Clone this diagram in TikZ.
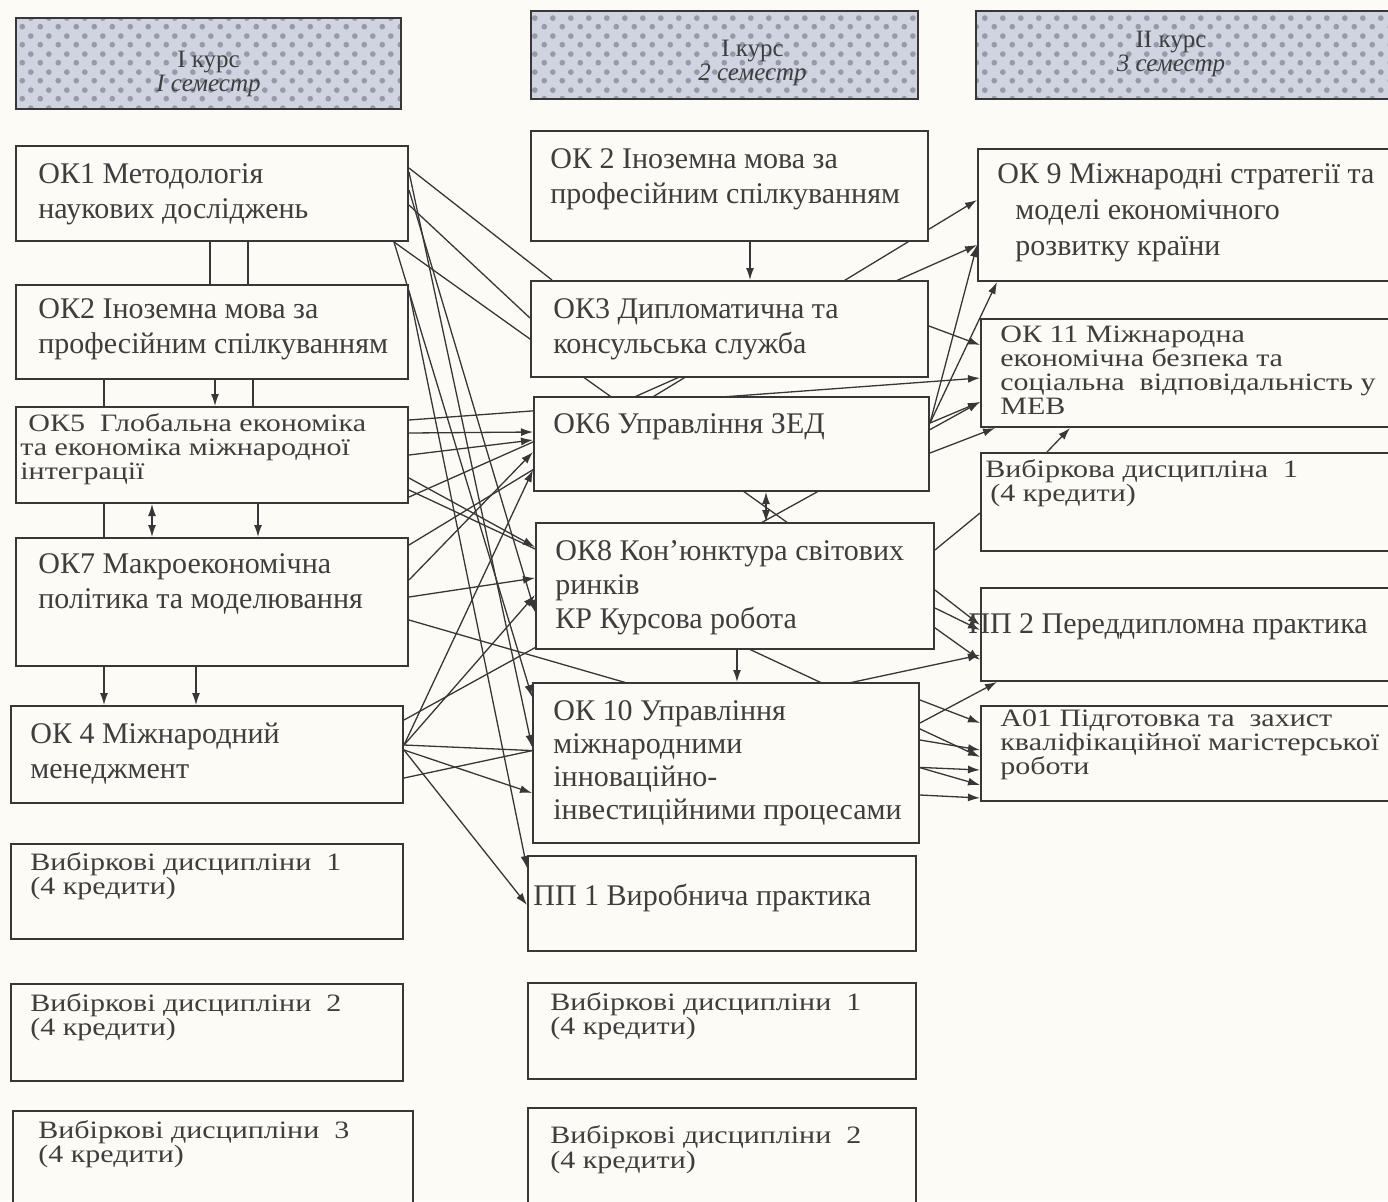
\documentclass[tikz,border=0pt]{standalone}
\usepackage{fontspec}
\setmainfont{Liberation Serif}
\newfontfamily\widefont[FakeStretch=1.2]{Liberation Serif}
\usetikzlibrary{arrows.meta,calc,patterns.meta}

\definecolor{linec}{RGB}{55,55,55}
\definecolor{textc}{RGB}{62,62,62}
\definecolor{paper}{RGB}{252,251,246}
\definecolor{hfill}{RGB}{208,212,224}
\definecolor{hdot}{RGB}{150,155,172}

\pgfdeclarelayer{sheet}
\pgfdeclarelayer{lines}
\pgfsetlayers{sheet,lines,main}

% dotted fill of the course headers
\tikzdeclarepattern{
  name=hdots,
  type=uncolored,
  bounding box={(0pt,0pt) and (9pt,9pt)},
  tile size={(9pt,9pt)},
  code={
    \fill (2.25pt,2.25pt) circle (1.5pt);
    \fill (6.75pt,6.75pt) circle (1.5pt);
  }
}

% squeezed lines, as in the scan
\setlength{\lineskiplimit}{-20pt}
\newcommand{\bigtxt}{\fontsize{15}{17.5}\selectfont}
\newcommand{\smalltxt}{\widefont\fontsize{12.5}{12}\selectfont}

\begin{document}
\begin{tikzpicture}[x=0.5pt,y=-0.5pt,>={Latex[length=6pt,width=4pt]}]
  \tikzstyle{box}=[draw=linec,line width=1pt,fill=paper,anchor=north west,inner sep=0pt]
  \tikzstyle{header}=[draw=linec,line width=1pt,anchor=north west,inner sep=0pt,
                      preaction={fill=hfill},pattern=hdots,pattern color=hdot]
  \tikzstyle{txt}=[anchor=base west,inner sep=0pt,align=left,text=textc,font=\bigtxt]
  \tikzstyle{tight}=[txt,font=\smalltxt]
  \tikzstyle{htxt}=[inner sep=0pt,align=center,text=textc,font=\fontsize{12.5}{12}\selectfont]
  \tikzstyle{link}=[draw=linec,line width=0.65pt]

  \useasboundingbox (0,0) rectangle (1388,1201);

  % headers
  \node[header,minimum width=192.5pt,minimum height=45.5pt] (h1) at (15,17) {};
  \node[header,minimum width=193.5pt,minimum height=44pt] (h2) at (530,10) {};
  \node[header,minimum width=210pt,minimum height=44pt] (h3) at (975,10) {};
  \node[htxt] (h1t) at ($(h1.center)+(0,10)$) {I курс\\\textit{I семестр}};
  \node[htxt] (h2t) at ($(h2.center)+(28,8)$) {I курс\\\textit{2 семестр}};
  \node[htxt] (h3t) at ($(h3.center)+(-15,-1)$) {II курс\\\textit{3 семестр}};

  % 1 semester (text nodes sit on the baseline of their last line)
  \node[box,minimum width=196pt,minimum height=47.5pt] (ok1) at (15,145) {};
  \node[box,minimum width=196pt,minimum height=47pt] (ok2a) at (15,284) {};
  \node[box,minimum width=196pt,minimum height=48pt] (ok5) at (15,406) {};
  \node[box,minimum width=196pt,minimum height=64pt] (ok7) at (15,537) {};
  \node[box,minimum width=196pt,minimum height=48.5pt] (ok4) at (10,705) {};
  \node[box,minimum width=196pt,minimum height=47.5pt] (vd11) at (10,843) {};
  \node[box,minimum width=196pt,minimum height=48.5pt] (vd12) at (10,983) {};
  \node[box,minimum width=200pt,minimum height=50pt] (vd13) at (12,1110) {};

  \node[txt] (ok1t) at ($(ok1.north west)+(23,73)$) {ОК1 Методологія\\наукових досліджень};
  \node[txt] (ok2at) at ($(ok2a.north west)+(23,69)$) {ОК2 Іноземна мова за\\професійним спілкуванням};
  \node[tight] (ok5t) at ($(ok5.north west)+(5,73)$) {\hspace*{4pt}ОК5 \ Глобальна економіка\\та економіка міжнародної\\інтеграції};
  \node[txt] (ok7t) at ($(ok7.north west)+(23,71)$) {ОК7 Макроекономічна\\політика та моделювання};
  \node[txt] (ok4t) at ($(ok4.north west)+(20,73)$) {ОК 4 Міжнародний\\менеджмент};
  \node[tight] (vd11t) at ($(vd11.north west)+(20,51)$) {Вибіркові дисципліни \ 1\\(4 кредити)};
  \node[tight] (vd12t) at ($(vd12.north west)+(20,52)$) {Вибіркові дисципліни \ 2\\(4 кредити)};
  \node[tight] (vd13t) at ($(vd13.north west)+(26,52)$) {Вибіркові дисципліни \ 3\\(4 кредити)};

  % 2 semester
  \node[box,minimum width=198.5pt,minimum height=55pt] (ok2b) at (530,130) {};
  \node[box,minimum width=198.5pt,minimum height=48pt] (ok3) at (530,280) {};
  \node[box,minimum width=197.5pt,minimum height=47pt] (ok6) at (533,396) {};
  \node[box,minimum width=199pt,minimum height=63pt] (ok8) at (535,522) {};
  \node[box,minimum width=193pt,minimum height=80pt] (ok10) at (532,682) {};
  \node[box,minimum width=194pt,minimum height=47.5pt] (pp1) at (527,855) {};
  \node[box,minimum width=194pt,minimum height=48pt] (vd21) at (527,982) {};
  \node[box,minimum width=194pt,minimum height=50pt] (vd22) at (527,1107) {};

  \node[txt] (ok2bt) at ($(ok2b.north west)+(20,73)$) {ОК 2 Іноземна мова за\\професійним спілкуванням};
  \node[txt] (ok3t) at ($(ok3.north west)+(23,73)$) {ОК3 Дипломатична та\\консульська служба};
  \node[txt] (ok6t) at ($(ok6.north west)+(20,37)$) {ОК6 Управління ЗЕД};
  \node[txt,font=\fontsize{15}{17}\selectfont] (ok8t) at ($(ok8.north west)+(20,106)$) {ОК8 Кон'юнктура світових\\ринків\\КР Курсова робота};
  \node[txt,font=\fontsize{15}{16.5}\selectfont] (ok10t) at ($(ok10.north west)+(21,137)$) {ОК 10 Управління\\міжнародними\\інноваційно-\\інвестиційними процесами};
  \node[txt] (pp1t) at ($(pp1.north west)+(6,50)$) {ПП 1 Виробнича практика};
  \node[tight] (vd21t) at ($(vd21.north west)+(23,52)$) {Вибіркові дисципліни \ 1\\(4 кредити)};
  \node[tight,font=\widefont\fontsize{12.5}{12.5}\selectfont] (vd22t) at ($(vd22.north west)+(23,61)$) {Вибіркові дисципліни \ 2\\(4 кредити)};

  % 3 semester
  \node[box,minimum width=210pt,minimum height=66pt] (ok9) at (977,148) {};
  \node[box,minimum width=210pt,minimum height=54pt] (ok11) at (980,318) {};
  \node[box,minimum width=210pt,minimum height=49pt] (vd31) at (980,452) {};
  \node[box,minimum width=210pt,minimum height=46.5pt] (pp2) at (980,587) {};
  \node[box,minimum width=210pt,minimum height=47.5pt] (a01) at (980,705) {};

  \node[txt,font=\fontsize{15}{18}\selectfont] (ok9t) at ($(ok9.north west)+(20,107)$) {ОК 9 Міжнародні стратегії та\\\hspace*{9pt}моделі економічного\\\hspace*{9pt}розвитку країни};
  \node[tight] (ok11t) at ($(ok11.north west)+(20,96)$) {ОК 11 Міжнародна\\економічна безпека та\\соціальна \ відповідальність у\\МЕВ};
  \node[tight] (vd31t) at ($(vd31.north west)+(5,49)$) {Вибіркова дисципліна \ 1\\\hspace*{2.5pt}(4 кредити)};
  \node[txt] (pp2t) at ($(pp2.north west)+(-12,46)$) {ПП 2 Переддипломна практика};
  \node[tight] (a01t) at ($(a01.north west)+(20,69)$) {А01 Підготовка та \ захист\\кваліфікаційної магістерської\\роботи};

  \begin{pgfonlayer}{sheet}
    \fill[paper] (0,0) rectangle (1388,1201);
  \end{pgfonlayer}

  \begin{pgfonlayer}{lines}
    % inside the columns
    \draw[link] ($(ok1.south west)+(195,0)$) -- ($(ok2a.north west)+(195,0)$);
    \draw[link] ($(ok1.south west)+(233,0)$) -- ($(ok2a.north west)+(233,0)$);
    \draw[link] ($(ok2a.south west)+(89,0)$) -- ($(ok5.north west)+(89,0)$);
    \draw[link,->] ($(ok2a.south west)+(200,0)$) -- ($(ok5.north west)+(200,0)$);
    \draw[link] ($(ok2a.south west)+(238,0)$) -- ($(ok5.north west)+(238,0)$);
    \draw[link] ($(ok5.south west)+(89,0)$) -- ($(ok7.north west)+(89,0)$);
    \draw[link,<->] ($(ok5.south west)+(137,0)$) -- ($(ok7.north west)+(137,0)$);
    \draw[link,->] ($(ok5.south west)+(243,0)$) -- ($(ok7.north west)+(243,0)$);
    \draw[link,->] ($(ok7.south west)+(89,0)$) -- ($(ok4.north west)+(94,0)$);
    \draw[link,->] ($(ok7.south west)+(181,0)$) -- ($(ok4.north west)+(186,0)$);
    \draw[link,->] ($(ok2b.south west)+(220,0)$) -- ($(ok3.north west)+(220,0)$);
    \draw[link,<->] ($(ok6.south west)+(233,0)$) -- ($(ok8.north west)+(231,0)$);
    \draw[link,->] ($(ok8.south west)+(202,0)$) -- ($(ok10.north west)+(205,0)$);

    % 1 semester -> 2 semester
    \draw[link] ($(ok1.north east)+(0,23)$) -- ($(ok3.north west)+(22,0)$);
    \draw[link] ($(ok1.north east)+(0,60)$) -- ($(ok3.north west)+(0,38)$);
    \draw[link,->] ($(ok1.north east)+(0,27)$) -- ($(ok10.north west)+(0,65)$);
    \draw[link,->] ($(ok1.north east)+(0,45)$) -- ($(ok8.north west)+(0,90)$);
    \draw[link,->] ($(ok1.south east)+(-15,0)$) -- ($(ok10.north west)+(0,15)$);
    \draw[link,->] ($(ok2a.north east)+(0,7)$) -- ($(pp1.north west)+(0,13)$);
    \draw[link,->] ($(ok5.north east)+(0,27)$) -- ($(ok6.north west)+(0,36)$);
    \draw[link,->] ($(ok5.north east)+(0,49)$) -- ($(ok6.north west)+(0,44)$);
    \draw[link,->] ($(ok5.north east)+(0,72)$) -- ($(ok8.north west)+(0,25)$);
    \draw[link,->] ($(ok7.north east)+(0,43)$) -- ($(ok6.north west)+(0,56)$);
    \draw[link,->] ($(ok7.north east)+(0,60)$) -- ($(ok8.north west)+(0,56)$);
    \draw[link,->] ($(ok4.north east)+(0,40)$) -- ($(ok6.north west)+(0,74)$);
    \draw[link,->] ($(ok4.north east)+(0,40)$) -- ($(ok8.north west)+(0,73)$);
    \draw[link,->] ($(ok4.north east)+(0,45)$) -- ($(ok10.north west)+(0,111)$);
    \draw[link,->] ($(ok4.north east)+(0,45)$) -- ($(pp1.north west)+(0,50)$);

    % 1 semester -> 3 semester
    \draw[link,->] ($(ok1.south east)+(-15,0)$) -- ($(pp2.north west)+(0,73)$);
    \draw[link,->] ($(ok5.north east)+(0,14)$) -- ($(ok11.north west)+(0,60)$);
    \draw[link,->] ($(ok5.north east)+(0,91)$) -- ($(ok9.north west)+(0,97)$);
    \draw[link,->] ($(ok5.north east)+(0,84)$) -- ($(a01.north west)+(0,52)$);
    \draw[link,->] ($(ok7.north east)+(0,8)$) -- ($(ok9.north west)+(0,52)$);
    \draw[link,->] ($(ok7.north east)+(0,83)$) -- ($(a01.north west)+(0,80)$);
    \draw[link,->] ($(ok4.north east)+(0,40)$) -- ($(a01.north west)+(0,65)$);
    \draw[link,->] ($(ok4.north east)+(0,73)$) -- ($(pp2.north west)+(0,68)$);
    \draw[link,->] ($(ok4.north east)+(0,15)$) -- ($(ok11.north west)+(0,84)$);

    % 2 semester -> 3 semester
    \draw[link,->] ($(ok3.north east)+(0,46)$) -- ($(ok11.north west)+(0,27)$);
    \draw[link,->] ($(ok6.north east)+(0,27)$) -- ($(ok11.north west)+(0,84)$);
    \draw[link,->] ($(ok6.north east)+(0,57)$) -- ($(ok11.south west)+(15,0)$);
    \draw[link,->] ($(ok6.north east)+(0,27)$) -- ($(ok9.south west)+(20,0)$);
    \draw[link,->] ($(ok6.north east)+(0,27)$) -- ($(ok9.north west)+(0,97)$);
    \draw[link] ($(ok8.north east)+(0,28)$) -- ($(vd31.north west)+(0,61)$);
    \draw[link,->] ($(vd31.north west)+(67,0)$) -- ($(ok11.south west)+(90,0)$);
    \draw[link,->] ($(ok8.north east)+(0,68)$) -- ($(pp2.north west)+(0,38)$);
    \draw[link,->] ($(ok8.north east)+(0,86)$) -- ($(pp2.north west)+(0,43)$);
    \draw[link,->] ($(ok10.north east)+(0,41)$) -- ($(pp2.south west)+(17,0)$);
    \draw[link,->] ($(ok10.north east)+(0,18)$) -- ($(a01.north west)+(0,18)$);
    \draw[link,->] ($(ok10.north east)+(0,58)$) -- ($(a01.north west)+(0,45)$);
    \draw[link,->] ($(ok10.north east)+(0,113)$) -- ($(a01.north west)+(0,93)$);
  \end{pgfonlayer}
\end{tikzpicture}
\end{document}
